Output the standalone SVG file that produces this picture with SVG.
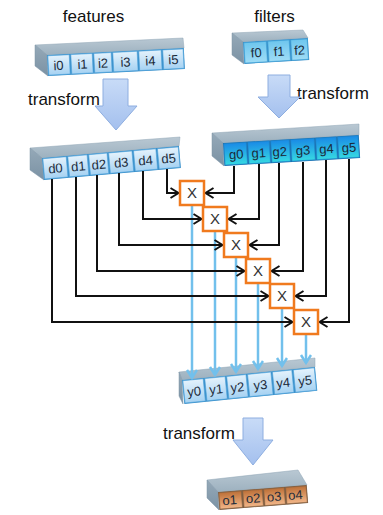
<svg xmlns="http://www.w3.org/2000/svg" width="383" height="515" viewBox="0 0 383 515">
  <defs>
    <style>
      .lbl { font-family: "Liberation Sans", Arial, sans-serif; font-size: 17px; fill: #111; }
      .cl { font-family: "Liberation Sans", Arial, sans-serif; font-size: 13px; fill: #1b2a3a; text-anchor: middle; }
      .xl { font-family: "Liberation Sans", Arial, sans-serif; font-size: 15px; fill: #333; text-anchor: middle; }
      .top { fill: url(#gTop); stroke: #8fa4b4; stroke-width: 0.5; }
      .end { fill: url(#gEnd); stroke: #7f95a6; stroke-width: 0.5; }
      .face { fill: #3b8fc8; }
      .faceG { fill: #1c6fae; }
      .faceO { fill: #7a5b42; }
      .cell { fill: url(#gLight); stroke: #4aa2dc; stroke-width: 0.6; }
      .cellG { fill: url(#gCyan); stroke: #1e86cc; stroke-width: 0.6; }
      .cellF { fill: url(#gFilt); stroke: #3aa0d8; stroke-width: 0.6; }
      .cellO { fill: url(#gOrange); stroke: #8a6440; stroke-width: 0.6; }
      .big { fill: url(#gArrow); stroke: #8eaee0; stroke-width: 1; }
      .mul rect { fill: #fff; stroke: #f07a1e; stroke-width: 2.5; }
      .wire { fill: none; stroke: #111; stroke-width: 2; marker-end: url(#ah); }
      .sum { fill: none; stroke: #72c0ec; stroke-width: 2.5; marker-end: url(#ahb); }
    </style>
    <linearGradient id="gTop" x1="0" y1="0" x2="0" y2="1">
      <stop offset="0" stop-color="#b9c8d3"/>
      <stop offset="1" stop-color="#9db1bf"/>
    </linearGradient>
    <linearGradient id="gEnd" x1="0" y1="0" x2="0" y2="1">
      <stop offset="0" stop-color="#95a9b8"/>
      <stop offset="1" stop-color="#7b92a4"/>
    </linearGradient>
    <linearGradient id="gLight" x1="0" y1="0" x2="0" y2="1">
      <stop offset="0" stop-color="#e4f2fc"/>
      <stop offset="1" stop-color="#a6d2f2"/>
    </linearGradient>
    <linearGradient id="gCyan" x1="0" y1="0" x2="0" y2="1">
      <stop offset="0" stop-color="#1a8be6"/>
      <stop offset="1" stop-color="#36d8e2"/>
    </linearGradient>
    <linearGradient id="gFilt" x1="0" y1="0" x2="0" y2="1">
      <stop offset="0" stop-color="#6ec6ee"/>
      <stop offset="1" stop-color="#9edcf6"/>
    </linearGradient>
    <linearGradient id="gOrange" x1="0" y1="0" x2="0" y2="1">
      <stop offset="0" stop-color="#bd7038"/>
      <stop offset="1" stop-color="#f2b688"/>
    </linearGradient>
    <linearGradient id="gArrow" x1="0" y1="0" x2="0" y2="1">
      <stop offset="0" stop-color="#c8dbf7"/>
      <stop offset="1" stop-color="#a4c0ee"/>
    </linearGradient>
    <marker id="ah" markerUnits="userSpaceOnUse" markerWidth="12" markerHeight="14" refX="9" refY="6" orient="auto">
      <path d="M1,1 L9,6 L1,11" fill="none" stroke="#111" stroke-width="2"/>
    </marker>
    <marker id="ahb" markerUnits="userSpaceOnUse" markerWidth="12" markerHeight="14" refX="9" refY="6" orient="auto">
      <path d="M1,1 L9,6 L1,11" fill="none" stroke="#72c0ec" stroke-width="2.5"/>
    </marker>
  </defs>

  <rect width="383" height="515" fill="#fff"/>

  <!-- captions -->
  <text class="lbl" x="93.5" y="22" text-anchor="middle">features</text>
  <text class="lbl" x="274.5" y="22" text-anchor="middle">filters</text>
  <text class="lbl" x="28" y="105">transform</text>
  <text class="lbl" x="297" y="99">transform</text>
  <text class="lbl" x="163" y="439">transform</text>

  <!-- block arrows -->
  <polygon class="big" points="103,79 128,79 128,106 137,106 116,130 95,106 103,106"/>
  <polygon class="big" points="268,75 290,75 290,97 300,97 279,118 258,97 268,97"/>
  <polygon class="big" points="243,418 263,418 263,440 273,440 253,465 233,440 243,440"/>

  <!-- input feature array -->
  <g id="features">
    <polygon class="top" points="47,55 184,48 183,38 35,45"/>
    <polygon class="end" points="47,55 35,45 35,66 48,76"/>
    <g transform="translate(47,55) rotate(-2.9)">
      <rect class="face" width="137" height="21"/>
      <rect class="cell" x="0.8" y="0.8" width="21.4" height="19.4"/>
      <rect class="cell" x="23.8" y="0.8" width="21.4" height="19.4"/>
      <rect class="cell" x="46.8" y="0.8" width="17.4" height="19.4"/>
      <rect class="cell" x="65.8" y="0.8" width="24.4" height="19.4"/>
      <rect class="cell" x="91.8" y="0.8" width="22.4" height="19.4"/>
      <rect class="cell" x="115.8" y="0.8" width="20.4" height="19.4"/>
      <text class="cl" x="11" y="15.5">i0</text>
      <text class="cl" x="35" y="15.5">i1</text>
      <text class="cl" x="55.5" y="15.5">i2</text>
      <text class="cl" x="78" y="15.5">i3</text>
      <text class="cl" x="103" y="15.5">i4</text>
      <text class="cl" x="126" y="15.5">i5</text>
    </g>
  </g>

  <!-- filter taps -->
  <g id="filters">
    <polygon class="top" points="243,42 308,38 303,30 232,33"/>
    <polygon class="end" points="243,42 232,33 232,55 244,64"/>
    <g transform="translate(243,42) rotate(-3.5)">
      <rect class="face" width="65" height="22"/>
      <rect class="cellF" x="0.8" y="0.8" width="22.4" height="20.4"/>
      <rect class="cellF" x="24.8" y="0.8" width="21.4" height="20.4"/>
      <rect class="cellF" x="47.8" y="0.8" width="16.4" height="20.4"/>
      <text class="cl" x="12.5" y="16">f0</text>
      <text class="cl" x="35.5" y="16">f1</text>
      <text class="cl" x="56" y="16">f2</text>
    </g>
  </g>

  <!-- transformed features -->
  <g id="d-array">
    <polygon class="top" points="42,158 179,146 180,137 30,148"/>
    <polygon class="end" points="42,158 30,148 30,170 44,180"/>
    <g transform="translate(42,158) rotate(-5)">
      <rect class="face" width="137.5" height="22"/>
      <rect class="cell" x="0.8" y="0.8" width="23.4" height="20.4"/>
      <rect class="cell" x="25.8" y="0.8" width="19.4" height="20.4"/>
      <rect class="cell" x="46.8" y="0.8" width="18.4" height="20.4"/>
      <rect class="cell" x="66.8" y="0.8" width="23.4" height="20.4"/>
      <rect class="cell" x="91.8" y="0.8" width="22.4" height="20.4"/>
      <rect class="cell" x="115.8" y="0.8" width="20.9" height="20.4"/>
      <text class="cl" x="12.5" y="16">d0</text>
      <text class="cl" x="35.5" y="16">d1</text>
      <text class="cl" x="56" y="16">d2</text>
      <text class="cl" x="78.5" y="16">d3</text>
      <text class="cl" x="103" y="16">d4</text>
      <text class="cl" x="126" y="16">d5</text>
    </g>
  </g>

  <!-- transformed filters -->
  <g id="g-array">
    <polygon class="top" points="223,143 359,135 359,124 212,133"/>
    <polygon class="end" points="223,143 212,133 212,156 224,166"/>
    <g transform="translate(223,143) rotate(-3.4)">
      <rect class="faceG" width="136" height="23"/>
      <rect class="cellG" x="0.8" y="0.8" width="22.4" height="21.4"/>
      <rect class="cellG" x="24.8" y="0.8" width="21.4" height="21.4"/>
      <rect class="cellG" x="47.8" y="0.8" width="18.4" height="21.4"/>
      <rect class="cellG" x="67.8" y="0.8" width="23.4" height="21.4"/>
      <rect class="cellG" x="92.8" y="0.8" width="20.4" height="21.4"/>
      <rect class="cellG" x="114.8" y="0.8" width="20.4" height="21.4"/>
      <text class="cl" x="12.5" y="16.5">g0</text>
      <text class="cl" x="35" y="16.5">g1</text>
      <text class="cl" x="56" y="16.5">g2</text>
      <text class="cl" x="79.5" y="16.5">g3</text>
      <text class="cl" x="103" y="16.5">g4</text>
      <text class="cl" x="125.5" y="16.5">g5</text>
    </g>
  </g>

  <!-- accumulated products -->
  <g id="y-array">
    <polygon class="top" points="182,380 315,367 315,358 179,372"/>
    <polygon class="end" points="182,380 179,372 179,396 183,404"/>
    <g transform="translate(182,380) rotate(-5.6)">
      <rect class="face" width="133.6" height="24"/>
      <rect class="cell" x="0.8" y="0.8" width="20.4" height="22.4"/>
      <rect class="cell" x="22.8" y="0.8" width="20.4" height="22.4"/>
      <rect class="cell" x="44.8" y="0.8" width="19.4" height="22.4"/>
      <rect class="cell" x="65.8" y="0.8" width="23.4" height="22.4"/>
      <rect class="cell" x="90.8" y="0.8" width="19.4" height="22.4"/>
      <rect class="cell" x="111.8" y="0.8" width="21" height="22.4"/>
      <text class="cl" x="11" y="17">y0</text>
      <text class="cl" x="33" y="17">y1</text>
      <text class="cl" x="54.5" y="17">y2</text>
      <text class="cl" x="77.5" y="17">y3</text>
      <text class="cl" x="100.5" y="17">y4</text>
      <text class="cl" x="122.5" y="17">y5</text>
    </g>
  </g>

  <!-- output array -->
  <g id="o-array">
    <polygon class="top" points="218,492 307,485 298,470 207,480"/>
    <polygon class="end" points="218,492 207,480 207,498 219,510"/>
    <g transform="translate(218,492) rotate(-4.5)">
      <rect class="faceO" width="89" height="18"/>
      <rect class="cellO" x="0.8" y="0.8" width="22.4" height="16.4"/>
      <rect class="cellO" x="24.8" y="0.8" width="19.4" height="16.4"/>
      <rect class="cellO" x="45.8" y="0.8" width="20.4" height="16.4"/>
      <rect class="cellO" x="67.8" y="0.8" width="20.4" height="16.4"/>
      <text class="cl" x="11" y="13.5">o1</text>
      <text class="cl" x="34.5" y="13.5">o2</text>
      <text class="cl" x="55.5" y="13.5">o3</text>
      <text class="cl" x="77" y="13.5">o4</text>
    </g>
  </g>

  <g id="connectors">
    <!-- products down to the output slots -->
    <path class="sum" d="M192,206 V378"/>
    <path class="sum" d="M215,232 V375"/>
    <path class="sum" d="M236,258 V372"/>
    <path class="sum" d="M258,284 V369"/>
    <path class="sum" d="M282,309 V366"/>
    <path class="sum" d="M306,335 V363"/>
    <!-- d inputs, from the left -->
    <path class="wire" d="M167,169 V193 H178.5"/>
    <path class="wire" d="M143,171 V219 H201.5"/>
    <path class="wire" d="M119,173 V245 H222.5"/>
    <path class="wire" d="M97,175 V271 H244.5"/>
    <path class="wire" d="M76,177 V296 H268.5"/>
    <path class="wire" d="M52,179 V322 H292.5"/>
    <!-- g inputs, from the right -->
    <path class="wire" d="M234,166 V193 H205.5"/>
    <path class="wire" d="M259,164 V219 H228.5"/>
    <path class="wire" d="M279,163 V245 H249.5"/>
    <path class="wire" d="M303,162 V271 H271.5"/>
    <path class="wire" d="M326,160 V296 H295.5"/>
    <path class="wire" d="M349,159 V322 H319.5"/>
  </g>

  <!-- pointwise multipliers -->
  <g id="mul0" class="mul"><rect x="180" y="181" width="24" height="24"/><text class="xl" x="192" y="198.4">X</text></g>
  <g id="mul1" class="mul"><rect x="203" y="207" width="24" height="24"/><text class="xl" x="215" y="224.4">X</text></g>
  <g id="mul2" class="mul"><rect x="224" y="233" width="24" height="24"/><text class="xl" x="236" y="250.4">X</text></g>
  <g id="mul3" class="mul"><rect x="246" y="259" width="24" height="24"/><text class="xl" x="258" y="276.4">X</text></g>
  <g id="mul4" class="mul"><rect x="270" y="284" width="24" height="24"/><text class="xl" x="282" y="301.4">X</text></g>
  <g id="mul5" class="mul"><rect x="294" y="310" width="24" height="24"/><text class="xl" x="306" y="327.4">X</text></g>
</svg>
